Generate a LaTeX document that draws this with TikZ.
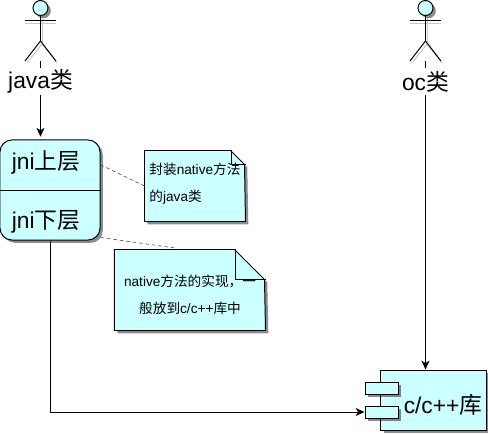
\documentclass[tikz,border=0pt]{standalone}
\usepackage{fontspec}
\setmainfont{Liberation Sans}
\newfontfamily\cjk{Noto Sans CJK SC}
\usepackage{xcolor}
\usepackage{tikz}
\usetikzlibrary{arrows.meta, positioning, calc, shadows}
\definecolor{umlfill}{HTML}{CCFFFF}
\tikzset{
  umlshadow/.style={drop shadow={shadow xshift=0.07cm, shadow yshift=-0.07cm, fill=black, opacity=0.45}},
  umlbox/.style={draw=black, fill=umlfill, inner sep=0pt, umlshadow},
  bigtext/.style={inner sep=0pt, font=\fontsize{16.2}{19}\selectfont},
  notetext/.style={inner sep=0pt, font=\fontsize{9.7}{19}\selectfont},
  flow/.style={-{Stealth[length=0.22cm, width=0.2cm, inset=0.06cm]}},
  notelink/.style={dashed, dash pattern=on 2.6pt off 2pt, black!75, thin}
}
\begin{document}
\begin{tikzpicture}[x=0.025cm, y=-0.025cm, line width=0.7pt]
  \useasboundingbox (0,0) rectangle (488,434);
  % Actors: stick figure, then a label sitting below it
  \foreach \cx/\actor/\txt in {40/javaActor/java{\cjk 类}, 425/ocActor/oc{\cjk 类}} {
    \begin{scope}[shift={(\cx,0)}]
      % grey offset copy of the limbs
      \draw[gray!45] (-15,23) -- (16,23);
      \draw[gray!45] (2,18) -- (2,44);
      \draw[gray!45] (-13,63) -- (2,44) -- (17,63);
      \node[circle, minimum size=0.375cm, umlbox] (\actor Head) at (0.5,8) {};
      \draw (-15,20) -- (16,20);
      \draw (0.5,15.5) -- (0.5,41);
      \draw (-15,61) -- (0.5,41) -- (16,61);
      \coordinate (\actor Foot) at (0.5,61);
      \node[bigtext, fill=white, minimum height=0.675cm] (\actor Label) at (0.5,81.5) {\txt};
      \draw (\actor Foot) -- (\actor Label.north);
    \end{scope}
  }
  % jni box, split in two halves
  \node[umlbox, rounded corners=0.3cm, minimum width=2.5cm, minimum height=2.5cm] (jniBox) at (50,190) {};
  \draw (jniBox.west) -- (jniBox.east);
  \node[bigtext] (jniUp) at (46,162) {jni{\cjk 上层}};
  \node[bigtext] (jniDown) at (46,222) {jni{\cjk 下层}};
  % Note 1
  \node[minimum width=2.5cm, minimum height=1.75cm, inner sep=0pt] (noteA) at (195,186) {};
  \draw[umlbox] (noteA.north west) -- ++(86,0) -- ++(14,14) -- (noteA.south east) -- (noteA.south west) -- cycle;
  \draw ($(noteA.north east)+(-14,0)$) -- ++(0,14) -- ++(14,0);
  \node[notetext, align=left, anchor=west] (noteAtext) at (149,183.5) {{\cjk 封装}native{\cjk 方法}\\{\cjk 的}java{\cjk 类}};
  % Note 2
  \node[minimum width=3.75cm, minimum height=2cm, inner sep=0pt] (noteB) at (190,290) {};
  \draw[umlbox] (noteB.north west) -- ++(120,0) -- ++(30,30) -- (noteB.south east) -- (noteB.south west) -- cycle;
  \draw ($(noteB.north east)+(-30,0)$) -- ++(0,30) -- ++(30,0);
  \node[notetext, align=center] (noteBtext) at (190,295) {native{\cjk 方法的实现，一}\\{\cjk 般放到}c/c++{\cjk 库中}};
  % Library component
  \node[umlbox, minimum width=2.625cm, minimum height=1.5cm] (libBox) at (433.5,400) {};
  \node[umlbox, minimum width=0.825cm, minimum height=0.3cm] (portA) at (381.5,388) {};
  \node[umlbox, minimum width=0.825cm, minimum height=0.3cm] (portB) at (381.5,412) {};
  \node[bigtext] (libText) at (443,405) {c/c++{\cjk 库}};
  % Connectors
  \draw[flow, shorten >=0.07cm] (javaActorLabel.south) -- (javaActorLabel.south |- jniBox.north);
  \draw[flow] (ocActorLabel.south) -- (ocActorLabel.south |- libBox.north);
  \draw[flow] (jniBox.south) |- (portB.west);
  \coordinate (noteBtop) at (175,248);
  \draw[notelink] ($(jniBox.north east)!0.25!(jniBox.south east)$) -- (noteA.west);
  \draw[notelink] ($(jniBox.north east)!0.97!(jniBox.south east)$) -- (noteBtop);
\end{tikzpicture}
\end{document}
